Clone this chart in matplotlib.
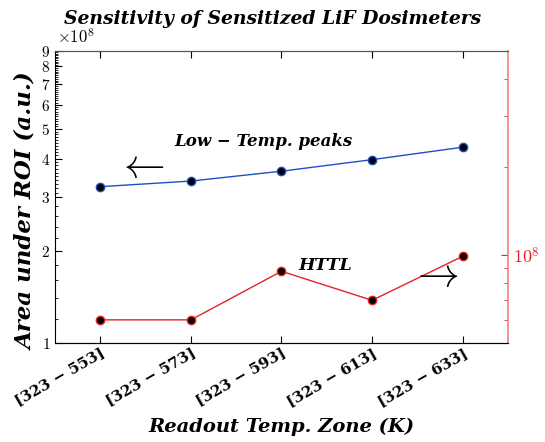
import numpy as np
import matplotlib
matplotlib.use("Agg")
import matplotlib.pyplot as plt
from matplotlib.ticker import FixedLocator, NullFormatter

plt.rcParams['mathtext.fontset'] = 'cm'

# data
zones = ["553", "573", "593", "613", "633"]
low_temp = [3.24e8, 3.38e8, 3.64e8, 3.97e8, 4.36e8]
httl = [6.0e7, 6.0e7, 8.8e7, 7.0e7, 9.9e7]
left_ticks = [1, 2, 3, 4, 5, 6, 7, 8, 9]

bi = dict(family='DejaVu Serif', weight='bold', style='italic')
blue = '#1f4fc8'
red = '#e32222'

fig = plt.figure(figsize=(5.45, 4.42), dpi=100)
ax = fig.add_axes([0.101, 0.224, 0.831, 0.661])
ax2 = ax.twinx()

x = np.arange(1, len(zones) + 1)
ax.plot(x, low_temp, color=blue, lw=1, marker='o', ms=6,
        mfc='black', mec=blue, mew=1)
ax2.plot(x, httl, color=red, lw=1, marker='o', ms=6,
         mfc='black', mec=red, mew=1)

# left axis, log scale shown in units of 1e8
ax.set_yscale('log')
ax.set_ylim(1e8, 9e8)
ax.yaxis.set_major_locator(FixedLocator([v * 1e8 for v in left_ticks]))
ax.set_yticklabels([f"${v}$" for v in left_ticks], fontsize=11)
minor = list(np.arange(1.2, 3.0, 0.2)) + list(np.arange(3.1, 9.0, 0.1))
minor = [m * 1e8 for m in minor if abs(m - round(m)) > 1e-6]
ax.yaxis.set_minor_locator(FixedLocator(minor))
ax.yaxis.set_minor_formatter(NullFormatter())
ax.text(0.005, 1.012, r"$\times10^{8}$", transform=ax.transAxes,
        fontsize=12, ha='left', va='bottom')

ax.set_xlim(0.5, 5.5)
ax.set_xticks(x)
ax.set_xticklabels(["[323 \u2212 " + z + "]" for z in zones],
                   fontsize=11, family='DejaVu Serif', weight='bold',
                   rotation=30, ha='right', va='top',
                   rotation_mode='anchor')

ax.tick_params(axis='both', which='both', direction='in', top=True,
               right=False)
ax.tick_params(axis='both', which='major', length=5, width=0.8)
ax.tick_params(axis='y', which='minor', length=2.5, width=0.6)
ax.tick_params(axis='x', which='major', pad=2)

# right axis
ax2.set_yscale('log')
ax2.set_ylim(5e7, 5e8)
ax2.yaxis.set_major_locator(FixedLocator([1e8]))
ax2.set_yticklabels([r"$10^{8}$"], fontsize=13, color=red)
ax2.yaxis.set_minor_locator(FixedLocator([6e7, 7e7, 8e7, 9e7, 2e8, 3e8, 4e8]))
ax2.yaxis.set_minor_formatter(NullFormatter())
ax2.tick_params(axis='y', which='both', direction='in', colors=red)
ax2.tick_params(axis='y', which='major', length=5)
ax2.tick_params(axis='y', which='minor', length=3)

for s in ['left', 'bottom']:
    ax.spines[s].set_color('black')
ax.spines['top'].set_color('#555555')
ax2.spines['top'].set_color('#555555')
ax2.spines['right'].set_color('#f08080')
ax2.spines['right'].set_linewidth(1.2)
ax.spines['right'].set_visible(False)
ax2.spines['left'].set_visible(False)

# labels
fig.text(0.5, 0.958, "Sensitivity of Sensitized LiF Dosimeters",
         ha='center', va='center', fontsize=13.5, **bi)
ax.set_ylabel("Area under ROI (a.u.)", fontsize=16.5, **bi)
ax.yaxis.set_label_coords(-0.04, 0.45)
fig.text(0.516, 0.034, "Readout Temp. Zone (K)", ha='center',
         va='center', fontsize=14, **bi)

ax.text(2.8, 4.54e8, "Low \u2212 Temp. peaks", ha='center', va='center',
        fontsize=12, **bi)
ax.text(1.445, 3.8e8, r"$\leftarrow$", ha='center', va='center', fontsize=30)
ax2.text(3.48, 9.2e7, "HTTL", ha='center', va='center', fontsize=12.5, **bi)
ax2.text(4.69, 8.58e7, r"$\rightarrow$", ha='center', va='center',
         fontsize=30)

fig.savefig("out.png", dpi=100)
